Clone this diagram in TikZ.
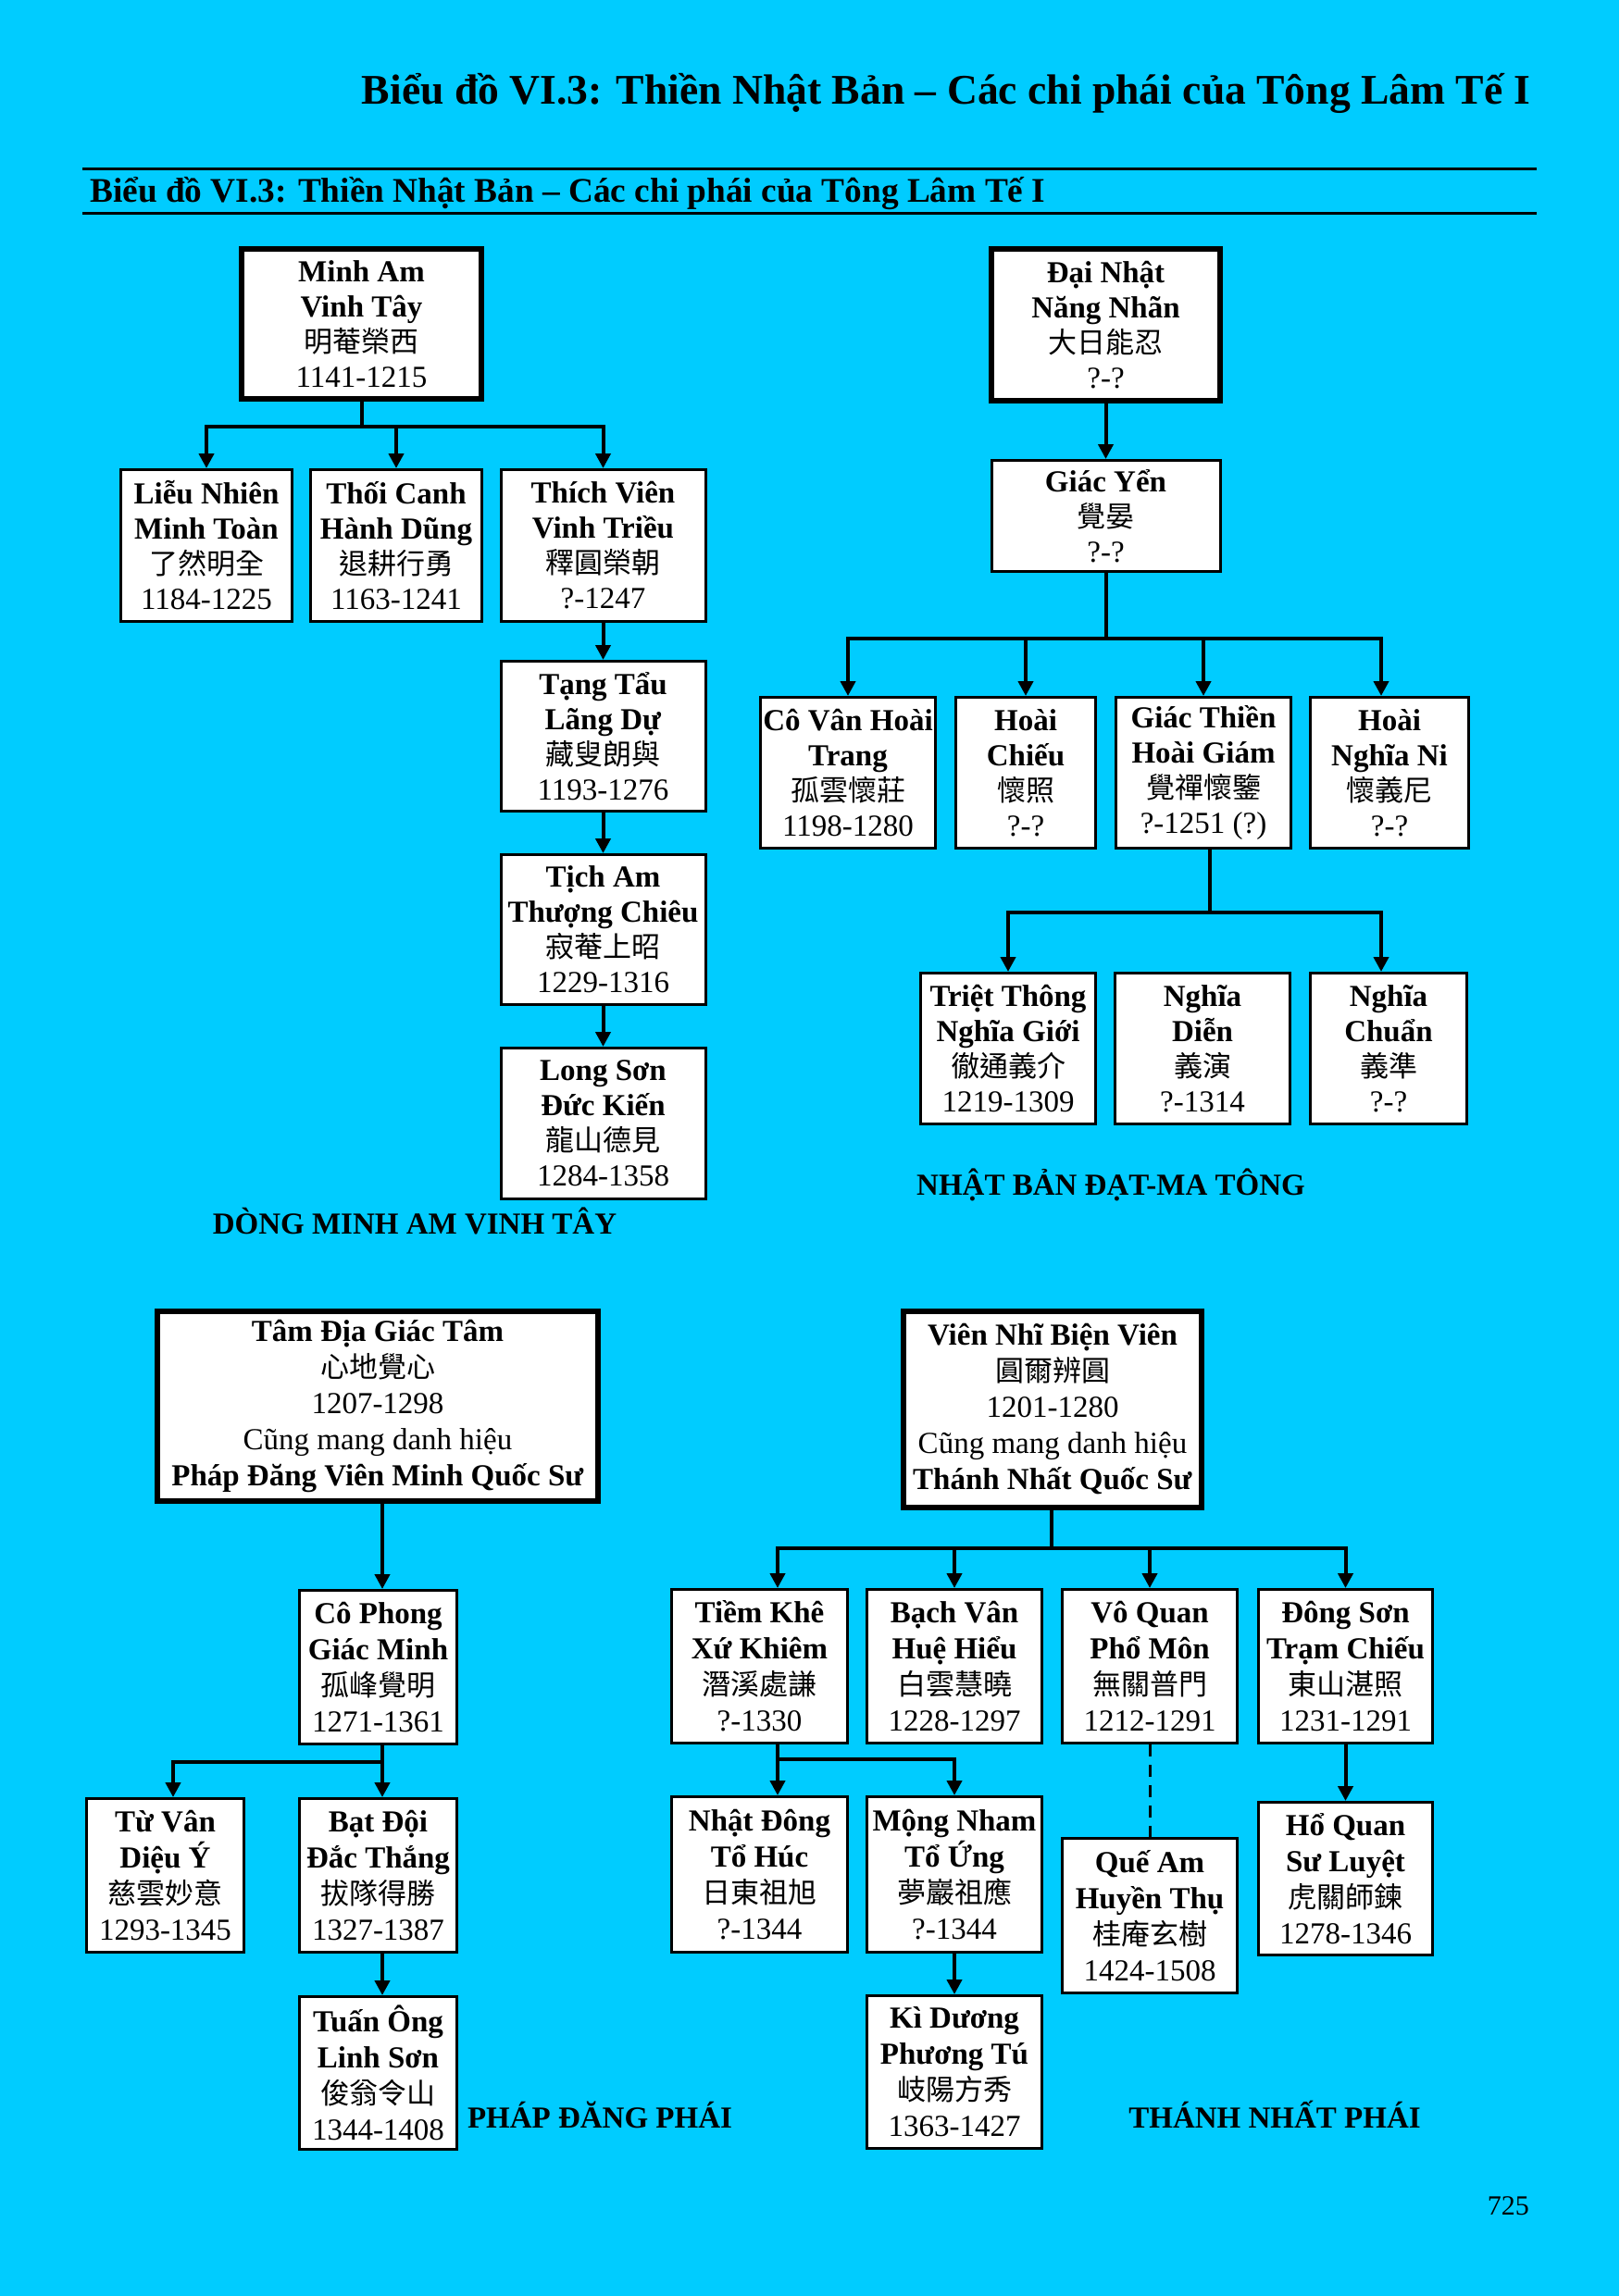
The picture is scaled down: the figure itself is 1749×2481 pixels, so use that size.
\documentclass[tikz,border=0pt]{standalone}
\usepackage{fontspec}
\setmainfont{Liberation Serif}
\newfontfamily\cjk{Noto Sans CJK TC}
\usetikzlibrary{arrows.meta}
\definecolor{bg}{HTML}{00CCFF}
\newcommand\B[1]{\textbf{#1}}
\newcommand\C[1]{{\cjk\fontsize{31}{38}\selectfont #1}}
\tikzset{
  box/.style={draw=black, fill=white, line width=3pt, inner sep=0pt, align=center, font=\fontsize{33}{38}\selectfont},
  rootbox/.style={box, line width=6pt},
  lowbox/.style={box, font=\fontsize{33}{39}\selectfont},
  lowroot/.style={lowbox, line width=6pt},
  conn/.style={line width=4pt},
  arr/.style={line width=4pt, -{Triangle[width=16pt,length=16pt]}},
  dashconn/.style={line width=3pt, dash pattern=on 13pt off 9pt},
  lbl/.style={font=\fontsize{33}{38}\selectfont\bfseries, inner sep=0pt},
}
\begin{document}
\begin{tikzpicture}[x=1pt,y=-1pt]
\useasboundingbox (0,0) rectangle (1749,2481);
\fill[bg] (0,0) rectangle (1749,2481);

% titles
\node[anchor=base east, inner sep=0pt, font=\fontsize{45.6}{50}\selectfont\bfseries] (title) at (1653,112) {Biểu đồ VI.3: Thiền Nhật Bản – Các chi phái của Tông Lâm Tế I};
\coordinate (r1a) at (89,182); \coordinate (r1b) at (1660,182);
\coordinate (r2a) at (89,230); \coordinate (r2b) at (1660,230);
\draw[line width=3pt] (r1a) -- (r1b);
\draw[line width=3pt] (r2a) -- (r2b);
\node[anchor=base west, inner sep=0pt, font=\fontsize{37.3}{40}\selectfont\bfseries] (subtitle) at (97,218) {Biểu đồ VI.3: Thiền Nhật Bản – Các chi phái của Tông Lâm Tế I};

% ---------- top left ----------
\node[rootbox, minimum width=259, minimum height=162] (minh) at (390.5,350) {\B{Minh Am}\\\B{Vinh Tây}\\\C{明菴榮西}\\1141-1215};
\node[box, minimum width=185, minimum height=164] (lieu) at (223,589.5) {\B{Liễu Nhiên}\\\B{Minh Toàn}\\\C{了然明全}\\1184-1225};
\node[box, minimum width=185, minimum height=164] (thoi) at (428,589.5) {\B{Thối Canh}\\\B{Hành Dũng}\\\C{退耕行勇}\\1163-1241};
\node[box, minimum width=221, minimum height=164] (thich) at (651.5,589.5) {\B{Thích Viên}\\\B{Vinh Triều}\\\C{釋圓榮朝}\\?-1247};
\node[box, minimum width=221, minimum height=162] (tang) at (651.5,795.5) {\B{Tạng Tẩu}\\\B{Lãng Dự}\\\C{藏叟朗與}\\1193-1276};
\node[box, minimum width=221, minimum height=162] (tich) at (651.5,1004.5) {\B{Tịch Am}\\\B{Thượng Chiêu}\\\C{寂菴上昭}\\1229-1316};
\node[box, minimum width=221, minimum height=163] (long) at (651.5,1214) {\B{Long Sơn}\\\B{Đức Kiến}\\\C{龍山德見}\\1284-1358};
\node[lbl] (lblminh) at (448,1319) {DÒNG MINH AM VINH TÂY};

\coordinate (j1) at (390.5,461);
\draw[conn] (minh.south) -- (j1);
\draw[arr] (j1) -| (lieu.north);
\draw[arr] (j1) -| (thoi.north);
\draw[arr] (j1) -| (thich.north);
\draw[arr] (thich.south) -- (tang.north);
\draw[arr] (tang.south) -- (tich.north);
\draw[arr] (tich.south) -- (long.north);

% ---------- top right ----------
\node[rootbox, minimum width=247, minimum height=164] (dai) at (1194.5,351) {\B{Đại Nhật}\\\B{Năng Nhãn}\\\C{大日能忍}\\?-?};
\node[box, minimum width=247, minimum height=120] (giacyen) at (1194.5,557.5) {\B{Giác Yển}\\\C{覺晏}\\?-?};
\node[box, minimum width=189, minimum height=163] (covan) at (916,835) {\B{Cô Vân Hoài}\\\B{Trang}\\\C{孤雲懷莊}\\1198-1280};
\node[box, minimum width=151, minimum height=163] (hoaichieu) at (1108,835) {\B{Hoài}\\\B{Chiếu}\\\C{懷照}\\?-?};
\node[box, minimum width=189, minimum height=163] (giacthien) at (1300,835) {\B{Giác Thiền}\\\B{Hoài Giám}\\\C{覺禪懷鑒}\\?-1251 (?)};
\node[box, minimum width=171, minimum height=163] (hoainghia) at (1501,835) {\B{Hoài}\\\B{Nghĩa Ni}\\\C{懷義尼}\\?-?};
\node[box, minimum width=189, minimum height=163] (trietthong) at (1089,1133) {\B{Triệt Thông}\\\B{Nghĩa Giới}\\\C{徹通義介}\\1219-1309};
\node[box, minimum width=189, minimum height=163] (nghiadien) at (1299,1133) {\B{Nghĩa}\\\B{Diễn}\\\C{義演}\\?-1314};
\node[box, minimum width=169, minimum height=163] (nghiachuan) at (1500,1133) {\B{Nghĩa}\\\B{Chuẩn}\\\C{義準}\\?-?};
\node[lbl] (lbldatma) at (1200,1280) {NHẬT BẢN ĐẠT-MA TÔNG};

\draw[arr] (dai.south) -- (giacyen.north);
\coordinate (j2) at (1194.5,690);
\coordinate (k2) at (1492,0);
\draw[conn] (giacyen.south) -- (j2);
\draw[arr] (j2) -| (covan.north);
\draw[arr] (j2) -| (hoaichieu.north);
\draw[arr] (j2) -| (giacthien.north);
\draw[arr] (j2) -| (hoainghia.north -| k2);
\coordinate (k3) at (1307,0);
\coordinate (j3) at (1307,986);
\draw[conn] (giacthien.south -| k3) -- (j3);
\draw[arr] (j3) -| (trietthong.north);
\draw[arr] (j3) -| (nghiachuan.north -| k2);

% ---------- bottom left ----------
\node[lowroot, minimum width=476, minimum height=205] (tamdia) at (408,1519.5) {\B{Tâm Địa Giác Tâm}\\\C{心地覺心}\\1207-1298\\Cũng mang danh hiệu\\\B{Pháp Đăng Viên Minh Quốc Sư}};
\node[lowbox, minimum width=170, minimum height=166] (cophong) at (408.5,1801.5) {\B{Cô Phong}\\\B{Giác Minh}\\\C{孤峰覺明}\\1271-1361};
\node[lowbox, minimum width=170, minimum height=166] (tuvan) at (178.5,2026.5) {\B{Từ Vân}\\\B{Diệu Ý}\\\C{慈雲妙意}\\1293-1345};
\node[lowbox, minimum width=170, minimum height=166] (batdoi) at (408.5,2026.5) {\B{Bạt Đội}\\\B{Đắc Thắng}\\\C{拔隊得勝}\\1327-1387};
\node[lowbox, minimum width=170, minimum height=165] (tuanong) at (408.5,2240) {\B{Tuấn Ông}\\\B{Linh Sơn}\\\C{俊翁令山}\\1344-1408};
\node[lbl] (lblphapdang) at (648,2285) {PHÁP ĐĂNG PHÁI};

\coordinate (k4) at (413,0);
\coordinate (k5) at (187,0);
\coordinate (j4) at (413,1904);
\draw[arr] (tamdia.south -| k4) -- (cophong.north -| k4);
\draw[conn] (cophong.south -| k4) -- (j4);
\draw[arr] (j4) -- (batdoi.north -| k4);
\draw[arr] (j4) -| (tuvan.north -| k5);
\draw[arr] (batdoi.south -| k4) -- (tuanong.north -| k4);

% ---------- bottom right ----------
\node[lowroot, minimum width=322, minimum height=212] (viennhi) at (1137,1523) {\B{Viên Nhĩ Biện Viên}\\\C{圓爾辨圓}\\1201-1280\\Cũng mang danh hiệu\\\B{Thánh Nhất Quốc Sư}};
\node[lowbox, minimum width=190, minimum height=166] (tiemkhe) at (820.5,1800.5) {\B{Tiềm Khê}\\\B{Xứ Khiêm}\\\C{潛溪處謙}\\?-1330};
\node[lowbox, minimum width=189, minimum height=166] (bachvan) at (1031,1800.5) {\B{Bạch Vân}\\\B{Huệ Hiểu}\\\C{白雲慧曉}\\1228-1297};
\node[lowbox, minimum width=189, minimum height=166] (voquan) at (1242,1800.5) {\B{Vô Quan}\\\B{Phổ Môn}\\\C{無關普門}\\1212-1291};
\node[lowbox, minimum width=188, minimum height=166] (dongson) at (1453.5,1800.5) {\B{Đông Sơn}\\\B{Trạm Chiếu}\\\C{東山湛照}\\1231-1291};
\node[lowbox, minimum width=190, minimum height=168] (nhatdong) at (820.5,2025.5) {\B{Nhật Đông}\\\B{Tổ Húc}\\\C{日東祖旭}\\?-1344};
\node[lowbox, minimum width=189, minimum height=168] (mongnham) at (1031,2025.5) {\B{Mộng Nham}\\\B{Tổ Ứng}\\\C{夢巖祖應}\\?-1344};
\node[lowbox, minimum width=189, minimum height=165] (kiduong) at (1031,2239) {\B{Kì Dương}\\\B{Phương Tú}\\\C{岐陽方秀}\\1363-1427};
\node[lowbox, minimum width=189, minimum height=167] (queam) at (1242,2070) {\B{Quế Am}\\\B{Huyền Thụ}\\\C{桂庵玄樹}\\1424-1508};
\node[lowbox, minimum width=188, minimum height=165] (hoquan) at (1453.5,2030) {\B{Hổ Quan}\\\B{Sư Luyệt}\\\C{虎關師鍊}\\1278-1346};
\node[lbl] (lblthanhnhat) at (1377,2285) {THÁNH NHẤT PHÁI};

\coordinate (j5) at (1136,1673);
\coordinate (k6) at (840,0);
\draw[conn] (viennhi.south -| j5) -- (j5);
\draw[arr] (j5) -| (tiemkhe.north -| k6);
\draw[arr] (j5) -| (bachvan.north);
\draw[arr] (j5) -| (voquan.north);
\draw[arr] (j5) -| (dongson.north);
\coordinate (j6) at (840,1901);
\draw[conn] (tiemkhe.south -| k6) -- (j6);
\draw[arr] (j6) -- (nhatdong.north -| k6);
\draw[arr] (j6) -| (mongnham.north);
\draw[arr] (mongnham.south) -- (kiduong.north);
\draw[dashconn] (voquan.south) -- (queam.north);
\draw[arr] (dongson.south) -- (hoquan.north);

% page number
\node[anchor=base east, inner sep=0pt, font=\fontsize{30}{34}\selectfont] (pagenum) at (1652,2393) {725};
\end{tikzpicture}
\end{document}
